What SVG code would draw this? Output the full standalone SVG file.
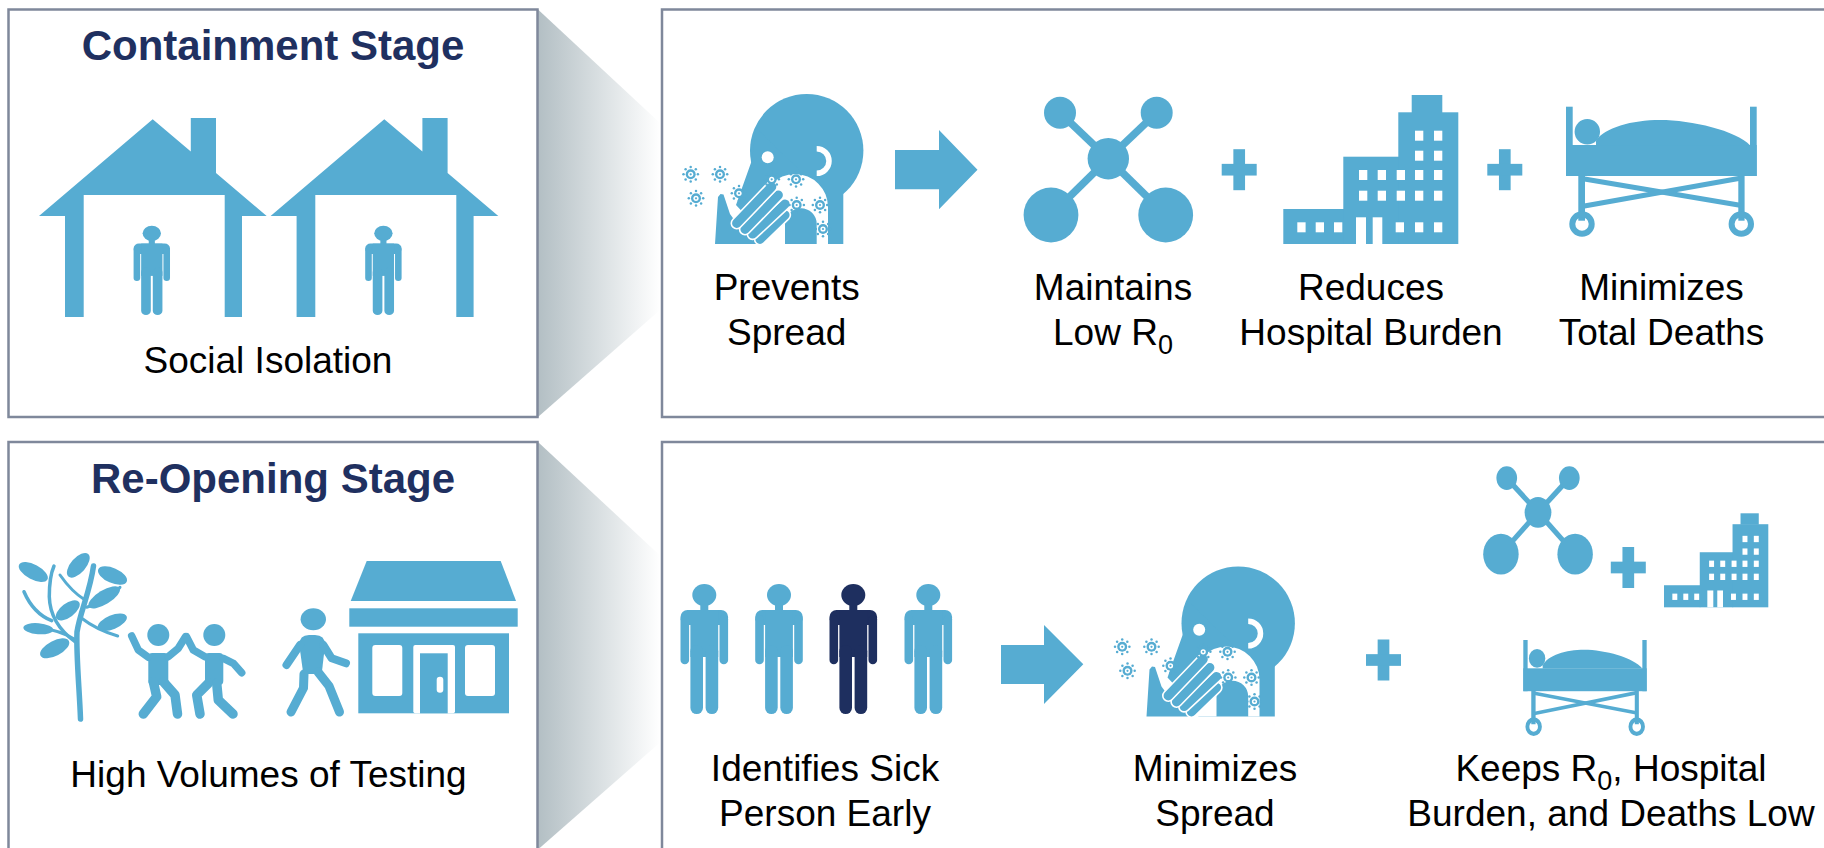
<svg xmlns="http://www.w3.org/2000/svg" width="1824" height="848" viewBox="0 0 1824 848">
<defs>
<style>
.panel{fill:#fff;stroke:#7f889b;stroke-width:2.5}
.ico{fill:#56acd2}
.title{font-family:"Liberation Sans",Arial,Helvetica,sans-serif;font-weight:bold;font-size:42px;fill:#1f3060;text-anchor:middle}
.lbl{font-family:"Liberation Sans",Arial,Helvetica,sans-serif;font-size:37px;fill:#000;text-anchor:middle}
.sub{font-size:27px}
.win{fill:#fff}
.limb{fill:none;stroke:#56acd2;stroke-linecap:round;stroke-linejoin:round}
.fw{fill:none;stroke:#fff;stroke-width:12.4;stroke-linecap:round}
.fb{fill:none;stroke:#56acd2;stroke-width:9.2;stroke-linecap:round}
</style>
<linearGradient id="fade" x1="0" y1="0" x2="1" y2="0">
<stop offset="0" stop-color="#b3bfc4"/>
<stop offset="1" stop-color="#ffffff"/>
</linearGradient>

<!-- standing figure, head centre at origin -->
<g id="person">
<ellipse cx="0" cy="0" rx="12" ry="11"/>
<rect x="-4" y="8" width="8" height="9"/>
<rect x="-23.8" y="15" width="47.6" height="15" rx="7"/>
<rect x="-23.8" y="20" width="8.6" height="49.3" rx="4.3"/>
<rect x="15.2" y="20" width="8.6" height="49.3" rx="4.3"/>
<rect x="-13.9" y="15" width="27.8" height="47"/>
<rect x="-13.9" y="50" width="12.6" height="69" rx="6.3"/>
<rect x="1.3" y="50" width="12.6" height="69" rx="6.3"/>
</g>

<!-- virus particle -->
<g id="virus">
<circle r="5" fill="#56acd2"/>
<circle r="2.6" fill="#fff"/>
<circle r="1.1" fill="#56acd2"/>
<g fill="#56acd2">
<circle cx="7.2" cy="0" r="1.25"/><circle cx="5.1" cy="5.1" r="1.25"/><circle cx="0" cy="7.2" r="1.25"/><circle cx="-5.1" cy="5.1" r="1.25"/>
<circle cx="-7.2" cy="0" r="1.25"/><circle cx="-5.1" cy="-5.1" r="1.25"/><circle cx="0" cy="-7.2" r="1.25"/><circle cx="5.1" cy="-5.1" r="1.25"/>
</g>
</g>

<!-- person covering a sneeze -->
<g id="sneeze">
<circle cx="136.7" cy="70.7" r="56.7" fill="#56acd2"/>
<polygon points="86,48 82,80 72,108 66,125 80,140 97,164 173.3,164 173.3,110 150,110" fill="#56acd2"/>
<path d="M92,164 V127 A33,33 0 0 1 158,127 V164 H146.7 V144 A15.8,15.8 0 0 0 115,144 V164 Z" fill="#fff"/>
<circle cx="97.7" cy="77.3" r="6" fill="#fff"/>
<path d="M146.7,68.7 A12.3,12.3 0 0 1 146.7,93.3" fill="none" stroke="#fff" stroke-width="5.5"/>
<polygon points="45,164 48,117 50.5,114 53.5,114.5 60,134 68,145 92,164" fill="#56acd2"/>
<line class="fw" x1="90" y1="159.3" x2="115" y2="135"/><line class="fb" x1="90" y1="159.3" x2="115" y2="135"/>
<line class="fw" x1="82.7" y1="154" x2="115" y2="124"/><line class="fb" x1="82.7" y1="154" x2="115" y2="124"/>
<line class="fw" x1="75" y1="149.3" x2="108.3" y2="115"/><line class="fb" x1="75" y1="149.3" x2="108.3" y2="115"/>
<line class="fw" x1="66.7" y1="143.3" x2="101.7" y2="106.7"/><line class="fb" x1="66.7" y1="143.3" x2="101.7" y2="106.7"/>
<use href="#virus" x="20.7" y="94.3"/>
<use href="#virus" x="50" y="94.3"/>
<use href="#virus" x="26" y="118.3"/>
<use href="#virus" x="69" y="113.3"/>
<use href="#virus" x="101.7" y="99.3"/>
<use href="#virus" x="126" y="99.3"/>
<use href="#virus" x="126.7" y="125"/>
<use href="#virus" x="150" y="125"/>
<use href="#virus" x="153" y="149"/>
</g>

<!-- network of contacts, centre node at origin -->
<g id="network" fill="#56acd2">
<g stroke="#56acd2" stroke-width="7.5">
<line x1="0" y1="0" x2="-48.3" y2="-46"/>
<line x1="0" y1="0" x2="48.4" y2="-46"/>
<line x1="0" y1="0" x2="-57.3" y2="56.3"/>
<line x1="0" y1="0" x2="57.4" y2="56.3"/>
</g>
<circle cx="-48.3" cy="-46" r="16"/>
<circle cx="48.4" cy="-46" r="16"/>
<circle cx="0" cy="0" r="20.7"/>
<circle cx="-57.3" cy="56.3" r="27.4"/>
<circle cx="57.4" cy="56.3" r="27.4"/>
</g>

<!-- hospital building -->
<g id="hospital">
<g fill="#56acd2">
<rect x="0" y="114" width="61" height="35"/>
<rect x="60" y="61.7" width="56" height="87.3"/>
<rect x="115" y="17.3" width="60" height="131.7"/>
<rect x="128.4" y="0" width="30.6" height="18"/>
</g>
<g class="win">
<rect x="72.7" y="122.3" width="10" height="26.7"/><rect x="89.4" y="122.3" width="9.6" height="26.7"/>
<rect x="14" y="127.3" width="8.3" height="10"/><rect x="32.4" y="127.3" width="8.3" height="10"/><rect x="50.7" y="127.3" width="8.3" height="10"/>
<rect x="112.4" y="127.3" width="8.3" height="10"/><rect x="131.7" y="127.3" width="8.3" height="10"/><rect x="150.7" y="127.3" width="8.3" height="10"/>
<rect x="75.7" y="75" width="8.3" height="10"/><rect x="94.4" y="75" width="8.3" height="10"/><rect x="113.4" y="75" width="8.3" height="10"/><rect x="131.7" y="75" width="8.3" height="10"/><rect x="150.7" y="75" width="8.3" height="10"/>
<rect x="75.7" y="95.7" width="8.3" height="10"/><rect x="94.4" y="95.7" width="8.3" height="10"/><rect x="113.4" y="95.7" width="8.3" height="10"/><rect x="131.7" y="95.7" width="8.3" height="10"/><rect x="150.7" y="95.7" width="8.3" height="10"/>
<rect x="131.7" y="35.7" width="8.3" height="10"/><rect x="150.7" y="35.7" width="8.3" height="10"/>
<rect x="131.7" y="55.7" width="8.3" height="10"/><rect x="150.7" y="55.7" width="8.3" height="10"/>
</g>
</g>

<!-- patient on a hospital bed -->
<g id="bed">
<g fill="#56acd2">
<rect x="0" y="0" width="6.7" height="69.3"/>
<rect x="184" y="0" width="6.7" height="69.3"/>
<rect x="0" y="38.3" width="190.7" height="31"/>
<circle cx="21.3" cy="25" r="12.7"/>
<path d="M30,34 C38,21 66,13.3 94,13.3 C126,13.3 170,24 184,38.5 L30,38.5 Z"/>
<rect x="12.3" y="68" width="6.7" height="46"/>
<rect x="172.3" y="68" width="6.3" height="46"/>
</g>
<g stroke="#56acd2" stroke-width="5" fill="none">
<line x1="17" y1="72" x2="174" y2="98.5"/>
<line x1="17" y1="99.5" x2="174" y2="71.5"/>
<circle cx="16" cy="117.3" r="9.7" stroke-width="6"/>
<circle cx="175.3" cy="117.3" r="9.7" stroke-width="6"/>
</g>
</g>

<g id="plus" fill="#56acd2">
<rect x="-5.85" y="-20.5" width="11.7" height="41"/>
<rect x="-17.5" y="-5.85" width="35" height="11.7"/>
</g>

<path id="house" d="M39,216 L152.7,119.3 L190.8,151.6 L190.8,118 L216,118 L216,173 L266.7,216 L242,216 L242,317 L224.7,317 L224.7,195 L83.7,195 L83.7,317 L65,317 L65,216 Z"/>
</defs>

<rect width="1824" height="848" fill="#fff"/>

<!-- callout wedges joining each stage to its outcomes -->
<g id="connectors">
<polygon points="538,9.5 660,123 660,310 538,417" fill="url(#fade)"/>
<polygon points="538,442 660,555.5 660,742.5 538,849.5" fill="url(#fade)"/>
</g>

<!-- panels -->
<g id="containment-panel"><rect class="panel" x="8.5" y="9.5" width="529" height="407.5"/></g>
<g id="containment-effects"><rect class="panel" x="662" y="9.5" width="1200" height="407.5"/></g>
<g id="reopening-panel"><rect class="panel" x="8.5" y="442" width="529" height="420"/></g>
<g id="reopening-effects"><rect class="panel" x="662" y="442" width="1200" height="420"/></g>

<g id="flow-arrows" class="ico">
<polygon points="895,150 939,150 939,130 977.5,169.7 939,209.3 939,189.3 895,189.3"/>
<polygon points="1001,645 1044,645 1044,625 1083.3,664.3 1044,704 1044,684 1001,684"/>
</g>

<!-- containment stage -->
<g id="containment-title"><text class="title" x="273" y="60">Containment Stage</text></g>
<g id="social-isolation">
<use href="#house" class="ico"/>
<use href="#house" class="ico" transform="translate(231.6,0)"/>
<use href="#person" class="ico" transform="translate(151.8,233.3) scale(0.765,0.687)"/>
<use href="#person" class="ico" transform="translate(383.4,233.3) scale(0.765,0.687)"/>
<text class="lbl" x="268" y="373">Social Isolation</text>
</g>

<g id="prevents-spread">
<use href="#sneeze" transform="translate(670,80)"/>
<text class="lbl" x="786.7" y="300">Prevents</text>
<text class="lbl" x="786.7" y="345">Spread</text>
</g>
<g id="low-r0">
<use href="#network" transform="translate(1108.3,158.7)"/>
<text class="lbl" x="1113" y="300">Maintains</text>
<text class="lbl" x="1113" y="345">Low R<tspan class="sub" dy="9">0</tspan></text>
</g>
<use href="#plus" transform="translate(1239.2,169.7)"/>
<g id="hospital-burden">
<use href="#hospital" transform="translate(1283.3,95)"/>
<text class="lbl" x="1371" y="300">Reduces</text>
<text class="lbl" x="1371" y="345">Hospital Burden</text>
</g>
<use href="#plus" transform="translate(1504.8,169.7)"/>
<g id="total-deaths">
<use href="#bed" transform="translate(1566,106.7)"/>
<text class="lbl" x="1661.5" y="300">Minimizes</text>
<text class="lbl" x="1661.5" y="345">Total Deaths</text>
</g>

<!-- re-opening stage -->
<g id="reopening-title"><text class="title" x="273" y="493">Re-Opening Stage</text></g>
<g id="testing">
<!-- tree -->
<g class="limb">
<path d="M80.5,719 C79.5,690 76,655 77,632 C80,612 90,592 93.5,566" stroke-width="5.5"/>
<path d="M75,641.7 Q50,623.3 49.3,596.7 Q49.3,576.7 54,566" stroke-width="3.5"/>
<path d="M24,591.7 Q33.3,613.3 51.7,620.7" stroke-width="3.5"/>
<path d="M60,575 Q71.7,591.7 85,600" stroke-width="3"/>
<path d="M86.7,607.3 Q110,600 120,587.3" stroke-width="3"/>
<path d="M81.7,618.3 Q96.7,630 117.7,636" stroke-width="3"/>
<path d="M76,640 Q60,630 40,628" stroke-width="3"/>
</g>
<g class="ico">
<ellipse cx="33.3" cy="572" rx="16" ry="7.5" transform="rotate(28 33.3 572)"/>
<ellipse cx="78.3" cy="565.3" rx="15" ry="7.5" transform="rotate(-48.6 78.3 565.3)"/>
<ellipse cx="112.5" cy="575.5" rx="15.5" ry="7.5" transform="rotate(23.6 112.5 575.5)"/>
<ellipse cx="67.8" cy="610.3" rx="14" ry="7" transform="rotate(-36.9 67.8 610.3)"/>
<ellipse cx="104.2" cy="597.3" rx="18" ry="7" transform="rotate(-31.3 104.2 597.3)"/>
<ellipse cx="112.3" cy="622.2" rx="15.5" ry="7" transform="rotate(-22.3 112.3 622.2)"/>
<ellipse cx="38.3" cy="628.7" rx="15" ry="5.5" transform="rotate(5 38.3 628.7)"/>
<ellipse cx="54.7" cy="648.3" rx="16" ry="7.5" transform="rotate(-27.6 54.7 648.3)"/>
</g>
<!-- children giving a high five -->
<g class="ico">
<circle cx="158.3" cy="635" r="11"/>
<rect x="148.3" y="653" width="20" height="32" rx="4"/>
<circle cx="214.3" cy="635" r="11"/>
<rect x="205" y="653" width="18.3" height="32" rx="4"/>
</g>
<g class="limb" stroke-width="7.5">
<polyline points="148.3,657.3 138.3,650 131.7,636"/>
<polyline points="168.3,656.7 178.3,648.3 185.5,636.7"/>
<polyline points="205,656.7 193.3,650 186.5,636.7"/>
<polyline points="223.3,658.3 233.3,663.3 241.7,672.7"/>
</g>
<g class="limb" stroke-width="9.5">
<polyline points="153.3,681.7 156.7,696.7 143.3,714"/>
<polyline points="163.3,681.7 175,695 177.5,714"/>
<polyline points="208.3,683.3 196.7,695 200,714"/>
<polyline points="216.7,683.3 218.3,700 233,714"/>
</g>
<!-- walking shopper -->
<g class="ico">
<ellipse cx="313.3" cy="619.3" rx="12.7" ry="11"/>
<path d="M303.3,674 L299.3,645 Q299.3,635 309,635 L315,635 Q325,635 325,645 L321.7,674 Z"/>
</g>
<g class="limb" stroke-width="8">
<polyline points="300,645 286.5,665"/>
<polyline points="323.3,645 331.7,658.3 346,663.3"/>
</g>
<g class="limb" stroke-width="9">
<polyline points="304,674 303.5,688 291,712"/>
<polyline points="318,672 329,686 339.5,712"/>
</g>
<!-- shop front -->
<g class="ico">
<polygon points="366.7,561 500.7,561 516,601 350.7,601"/>
<rect x="349.3" y="608.3" width="168.4" height="18.4"/>
<rect x="358.3" y="633.3" width="150.7" height="80"/>
</g>
<g class="win">
<rect x="372.3" y="645" width="30" height="51" rx="3"/>
<rect x="465" y="645" width="30" height="51" rx="3"/>
<rect x="413.3" y="645" width="41.7" height="68.3" rx="2"/>
</g>
<rect class="ico" x="420" y="653.3" width="27.7" height="60"/>
<rect class="win" x="436.7" y="676.7" width="6.6" height="16" rx="3.3"/>
<text class="lbl" x="268.5" y="787">High Volumes of Testing</text>
</g>

<g id="identifies-sick">
<use href="#person" fill="#56acd2" transform="translate(704.3,595)"/>
<use href="#person" fill="#56acd2" transform="translate(779,595)"/>
<use href="#person" fill="#1e2f5f" transform="translate(853.3,595)"/>
<use href="#person" fill="#56acd2" transform="translate(928.3,595)"/>
<text class="lbl" x="825" y="781">Identifies Sick</text>
<text class="lbl" x="825" y="826">Person Early</text>
</g>

<g id="minimizes-spread">
<use href="#sneeze" transform="translate(1101.5,552.5)"/>
<text class="lbl" x="1215" y="781">Minimizes</text>
<text class="lbl" x="1215" y="826">Spread</text>
</g>

<use href="#plus" transform="translate(1383.5,660)"/>

<g id="keeps-low">
<use href="#network" transform="translate(1538,512.3) scale(0.647,0.743)"/>
<use href="#plus" transform="translate(1628.3,567.5)"/>
<use href="#hospital" transform="translate(1664,513.3) scale(0.596,0.631)"/>
<use href="#bed" transform="translate(1523.3,640) scale(0.647,0.739)"/>
<text class="lbl" x="1611" y="781">Keeps R<tspan class="sub" dy="9">0</tspan><tspan dy="-9">, Hospital</tspan></text>
<text class="lbl" x="1611" y="826">Burden, and Deaths Low</text>
</g>
</svg>
